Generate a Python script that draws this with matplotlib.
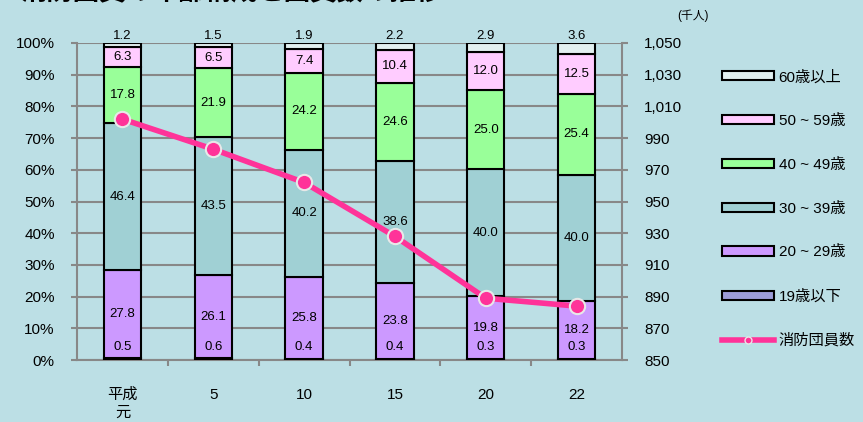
import matplotlib
matplotlib.use("Agg")
import matplotlib.pyplot as plt
from matplotlib.patches import Patch
from matplotlib.lines import Line2D
from matplotlib.ticker import FuncFormatter, MultipleLocator, FixedLocator
import numpy as np

plt.rcParams['font.family'] = ['Liberation Sans', 'Noto Sans CJK JP']

# データ
years = ["平成\n元", "5", "10", "15", "20", "22"]
age_labels = ["19歳以下", "20 ~ 29歳", "30 ~ 39歳", "40 ~ 49歳", "50 ~ 59歳", "60歳以上"]
under19 = [0.5, 0.6, 0.4, 0.4, 0.3, 0.3]
age20s = [27.8, 26.1, 25.8, 23.8, 19.8, 18.2]
age30s = [46.4, 43.5, 40.2, 38.6, 40.0, 40.0]
age40s = [17.8, 21.9, 24.2, 24.6, 25.0, 25.4]
age50s = [6.3, 6.5, 7.4, 10.4, 12.0, 12.5]
over60 = [1.2, 1.5, 1.9, 2.2, 2.9, 3.6]
members = [1002, 983, 962, 928, 889, 884]  # 千人
right_ticks = [850, 870, 890, 910, 930, 950, 970, 990, 1010, 1030, 1050]

colors = ["#9c9cd8", "#cc99ff", "#a0d0d4", "#99ff99", "#ffccff", "#e2f0f0"]
bg = "#bcdfe5"
grid_c = "#888888"
pink = "#ff3399"

fig = plt.figure(figsize=(8.63, 4.22), dpi=100, facecolor=bg)
ax = fig.add_axes([77 / 863, 1 - 360 / 422, 545 / 863, 317 / 422])
ax.set_facecolor(bg)

x = np.arange(len(years))
series = [under19, age20s, age30s, age40s, age50s, over60]
bottom = np.zeros(len(years))
for vals, c in zip(series, colors):
    ax.bar(x, vals, bottom=bottom, width=0.41, color=c, edgecolor="black",
           linewidth=1.5, zorder=3)
    bottom += np.array(vals)

# 数値ラベル
bottom = np.zeros(len(years))
for k, vals in enumerate(series):
    for i, v in enumerate(vals):
        if k == 0:
            ax.annotate(f"{v:.1f}", (x[i], 0), xytext=(0, 9), textcoords="offset points",
                        ha="center", va="center", fontsize=9.5, zorder=5)
        elif k == 5:
            ax.annotate(f"{v:.1f}", (x[i], 100), xytext=(0, 5), textcoords="offset points",
                        ha="center", va="center", fontsize=9.5, zorder=5)
        else:
            ax.text(x[i], bottom[i] + v / 2, f"{v:.1f}", ha="center", va="center",
                    fontsize=9.5, zorder=5)
    bottom += np.array(vals)

ax.set_xlim(-0.5, len(years) - 0.5)
ax.set_ylim(0, 100)
ax.yaxis.set_major_locator(MultipleLocator(10))
ax.yaxis.set_major_formatter(FuncFormatter(lambda v, p: f"{int(v)}%"))
ax.grid(axis="y", color=grid_c, linewidth=1.5, zorder=0)
ax.set_axisbelow(True)

ax.set_xticks(x)
ax.set_xticklabels(years, fontsize=11, linespacing=1.3)
ax.xaxis.set_minor_locator(FixedLocator(np.arange(0.5, len(years) - 0.5, 1)))
ax.tick_params(axis="x", which="major", length=0, pad=20)
ax.tick_params(axis="x", which="minor", length=4, width=1.5, color=grid_c, direction="out")
ax.tick_params(axis="y", length=4, width=1.5, color=grid_c, labelsize=11, pad=12)

for s in ["top", "right"]:
    ax.spines[s].set_visible(False)
for s in ["left", "bottom"]:
    ax.spines[s].set_color(grid_c)
    ax.spines[s].set_linewidth(1.5)

# 団員数 (右軸)
ax2 = ax.twinx()
ax2.set_ylim(850, 1050)
ax2.yaxis.set_major_locator(FixedLocator(right_ticks))
ax2.yaxis.set_major_formatter(FuncFormatter(lambda v, p: f"{int(v):,}"))
ax2.tick_params(axis="y", length=4, width=1.5, color=grid_c, labelsize=11, pad=12)
for s in ["top", "left", "bottom"]:
    ax2.spines[s].set_visible(False)
ax2.spines["right"].set_color(grid_c)
ax2.spines["right"].set_linewidth(1.5)
ax2.plot(x, members, color=pink, linewidth=4, marker="o", markersize=11,
         markerfacecolor=pink, markeredgecolor="#e8e8e8", markeredgewidth=1.5, zorder=6)
ax2.text(1.13, 1.085, "(千人)", transform=ax2.transAxes, fontsize=8.5, ha="center", va="center")

# タイトル (上端で切れている)
fig.text(20 / 863, 1 + 7 / 422, "消防団員の年齢構成と団員数の推移", fontsize=19,
         fontweight="bold", ha="left", va="center")

# 凡例
handles = [Patch(facecolor=c, edgecolor="black", linewidth=1.5) for c in colors[::-1]]
handles.append(Line2D([0], [0], color=pink, linewidth=4, marker="o", markersize=5,
                      markerfacecolor=pink, markeredgecolor="#e8e8e8", markeredgewidth=1))
labels = age_labels[::-1] + ["消防団員数"]
fig.legend(handles, labels, loc="upper left", bbox_to_anchor=(722 / 863, 1 - 70 / 422),
           frameon=False, fontsize=11, handlelength=3.4, handleheight=0.55,
           handletextpad=0.3, labelspacing=1.95, borderpad=0, borderaxespad=0)

fig.savefig("out.png", dpi=100, facecolor=bg)
